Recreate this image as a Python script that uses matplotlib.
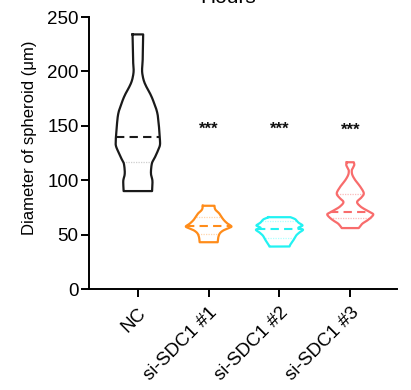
import numpy as np
import matplotlib
matplotlib.use("Agg")
import matplotlib.pyplot as plt

plt.rcParams['font.family'] = ['Liberation Sans', 'DejaVu Sans']

# ---- data ----
categories = ["NC", "si-SDC1 #1", "si-SDC1 #2", "si-SDC1 #3"]
colors = ["#1a1a1a", "#ff8c1a", "#22f2f2", "#f86c6c"]
quart_colors = ["#cfcfcf", "#ffd6ad", "#b0ffff", "#fbbcbc"]

# violin profiles: value levels (top -> bottom) and relative half-widths (density)
nc_levels = [234, 220, 210, 201, 195, 190, 185, 180, 175, 170, 165, 160, 155, 150, 145, 138, 132, 126, 120, 116, 110, 105, 100, 95, 90]
nc_density = [5.3, 5.0, 4.8, 4.2, 5.0, 6.5, 9.0, 12.0, 14.5, 16.5, 18.5, 19.8, 20.5, 21.0, 21.5, 22.0, 22.0, 19.5, 16.5, 14.2, 13.2, 13.2, 14.5, 14.5, 14.2]

s1_levels = [76.5, 74, 72, 69.5, 66, 63, 60, 57.5, 56, 54, 52, 50, 47, 43]
s1_density = [5.8, 6.2, 7.5, 10.5, 13, 15.5, 19, 22.8, 20, 15, 12, 10.5, 9.5, 9]

s2_levels = [66, 64, 61, 58.5, 57, 56, 54.5, 52, 49, 45, 41, 39]
s2_density = [11, 16, 19, 23, 20, 19, 23.5, 20, 16.5, 14, 11, 10]

s3_levels = [116.5, 114, 111, 109, 105, 100, 94, 88, 84, 80, 76, 73, 70, 68.5, 66, 63, 60, 56]
s3_density = [3.5, 4, 2.5, 1.5, 2, 5, 10, 13.5, 11, 6.8, 10, 15, 21, 23, 21, 17, 12, 8.5]

medians = [140, 57.5, 55, 70.5]
quartiles = [[116.5], [66, 50.5], [62.5, 46.5], [87, 65.5]]
sig_labels = ["", "***", "***", "***"]
sig_y = [None, 147, 147, 145.5]

y_ticks = [0, 50, 100, 150, 200, 250]
title = "Hours"
ylabel = "Diameter of spheroid (\u03bcm)"

levels_all = [nc_levels, s1_levels, s2_levels, s3_levels]
density_all = [nc_density, s1_density, s2_density, s3_density]

WSCALE = 1 / 70.7  # density -> x units


def smooth_profile(lv, dn, n=12):
    """Catmull-Rom curve through the profile points (for drawing only)."""
    P = np.column_stack([lv, dn])
    P = np.vstack([P[0], P, P[-1]])
    out = []
    t = np.linspace(0, 1, n, endpoint=False)[:, None]
    for k in range(1, len(P) - 2):
        p0, p1, p2, p3 = P[k - 1], P[k], P[k + 1], P[k + 2]
        seg = 0.5 * ((2 * p1) + (-p0 + p2) * t + (2 * p0 - 5 * p1 + 4 * p2 - p3) * t ** 2
                     + (-p0 + 3 * p1 - 3 * p2 + p3) * t ** 3)
        out.append(seg)
    out.append(P[-2][None, :])
    out = np.vstack(out)
    return out[:, 0], out[:, 1]


fig = plt.figure(figsize=(4.11, 3.90), dpi=100)
ax = fig.add_axes([89 / 411, 101 / 390, (397 - 89) / 411, 272 / 390])

for i in range(len(categories)):
    lv0 = np.array(levels_all[i], dtype=float)
    dn0 = np.array(density_all[i], dtype=float) * WSCALE
    lv, dn = smooth_profile(lv0, dn0)
    xs = np.concatenate([i - dn, (i + dn)[::-1], [i - dn[0]]])
    ys = np.concatenate([lv, lv[::-1], [lv[0]]])
    ax.plot(xs, ys, color=colors[i], lw=1.6, solid_joinstyle='round', zorder=3)
    # median
    w = np.interp(medians[i], lv[::-1], dn[::-1])
    ax.plot([i - w, i + w], [medians[i]] * 2, color=colors[i], lw=1.5,
            dashes=(4, 2.5), zorder=3)
    for q in quartiles[i]:
        wq = np.interp(q, lv[::-1], dn[::-1])
        ax.plot([i - wq, i + wq], [q] * 2, color=quart_colors[i], lw=0.9,
                dashes=(1, 1), zorder=2)
    if sig_labels[i]:
        ax.text(i, sig_y[i], sig_labels[i], ha='center', va='center',
                fontsize=12, fontweight='bold', color='#111111')

ax.set_xlim(-0.69, 3.66)
ax.set_ylim(0, 250)
ax.set_yticks(y_ticks)
ax.set_xticks(range(len(categories)))
ax.set_xticklabels(categories, rotation=45, ha='right', va='top',
                   rotation_mode='anchor', fontsize=13.5)
ax.tick_params(axis='y', labelsize=13.5, length=5.5, width=1.4, pad=2)
ax.tick_params(axis='x', length=6, width=1.4, pad=5)
for s in ['top', 'right']:
    ax.spines[s].set_visible(False)
for s in ['left', 'bottom']:
    ax.spines[s].set_linewidth(1.4)
ax.set_ylabel(ylabel, fontsize=12)
ax.yaxis.set_label_coords(-0.170, 0.557)

fig.text(228 / 411, 1 - 3 / 390, title, ha='center', va='baseline', fontsize=15)

fig.savefig("out.png", dpi=100)
